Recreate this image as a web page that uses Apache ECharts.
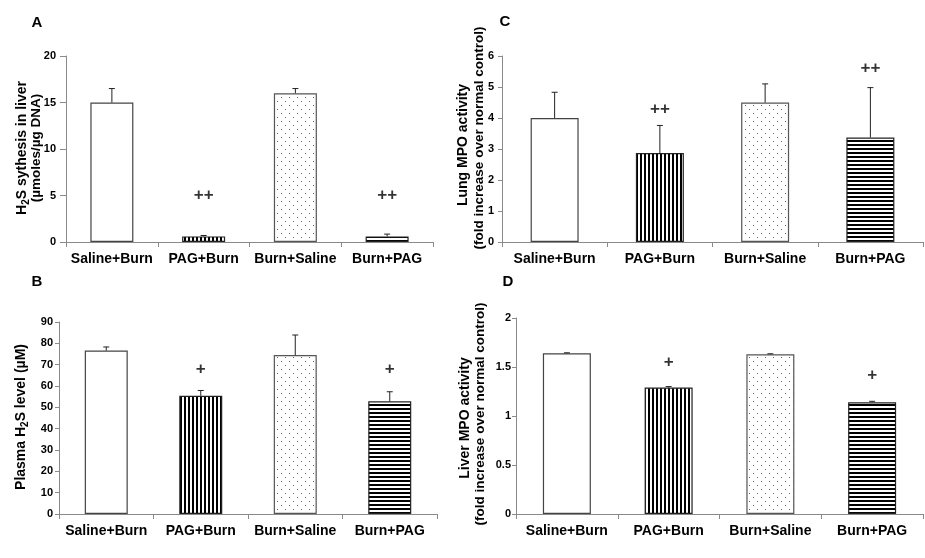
<!DOCTYPE html>
<html>
<head>
<meta charset="utf-8">
<script src="https://cdn.jsdelivr.net/npm/echarts@6/dist/echarts.min.js"></script>
<style>
  html, body { margin: 0; padding: 0; background: #fff; }
  #chart { width: 925px; height: 558px; }
</style>
</head>
<body>
<div id="chart"></div>
<script>
// groups on every panel
const categories = ['Saline+Burn', 'PAG+Burn', 'Burn+Saline', 'Burn+PAG']

// A - H2S synthesis in liver
const liverH2s = [15.0, 0.6, 16.0, 0.6]
const liverH2sSem = [1.5, 0.1, 0.5, 0.25]
const liverH2sSig = ['', '++', '', '++']
const liverH2sSigY = [null, 5, null, 5]
const liverH2sTicks = [0, 5, 10, 15, 20]

// B - plasma H2S
const plasmaH2s = [76.6, 55.4, 74.5, 52.8]
const plasmaH2sSem = [1.7, 2.5, 9.4, 4.5]
const plasmaH2sSig = ['', '+', '', '+']
const plasmaH2sSigY = [null, 67.7, null, 67.7]
const plasmaH2sTicks = [0, 10, 20, 30, 40, 50, 60, 70, 80, 90]

// C - lung MPO
const lungMpo = [4.0, 2.87, 4.5, 3.37]
const lungMpoSem = [0.83, 0.89, 0.6, 1.61]
const lungMpoSig = ['', '++', '', '++']
const lungMpoSigY = [null, 4.28, null, 5.6]
const lungMpoTicks = [0, 1, 2, 3, 4, 5, 6]

// D - liver MPO
const liverMpo = [1.64, 1.29, 1.63, 1.14]
const liverMpoSem = [0.005, 0.01, 0.005, 0.01]
const liverMpoSig = ['', '+', '', '+']
const liverMpoSigY = [null, 1.545, null, 1.415]
const liverMpoTicks = [0, 0.5, 1, 1.5, 2]

// fill patterns
const makeTile = (w, h, draw) => {
  const c = document.createElement('canvas')
  c.width = w
  c.height = h
  const ctx = c.getContext('2d')
  ctx.fillStyle = '#fff'
  ctx.fillRect(0, 0, w, h)
  draw(ctx)
  return c
}
const vStripes = makeTile(4, 4, ctx => { ctx.fillStyle = '#000'; ctx.fillRect(0, 0, 2, 4) })
const hStripes = makeTile(4, 4, ctx => { ctx.fillStyle = '#000'; ctx.fillRect(0, 0, 4, 2) })
const dots = makeTile(8, 8, ctx => {
  ctx.fillStyle = '#666'
  ctx.fillRect(1, 1, 1, 1)
  ctx.fillRect(5, 5, 1, 1)
})
const fills = [
  { color: '#fff', borderColor: '#444' },
  { color: { image: vStripes, repeat: 'repeat' }, borderColor: '#222' },
  { color: { image: dots, repeat: 'repeat' }, borderColor: '#555' },
  { color: { image: hStripes, repeat: 'repeat' }, borderColor: '#222' }
]

const grids = [
  { left: 66, top: 56, width: 367, height: 186 },   // A
  { left: 502, top: 56, width: 421, height: 186 },  // C
  { left: 59, top: 322, width: 378, height: 192 },  // B
  { left: 516, top: 318, width: 407, height: 196 }  // D
]

const panels = [
  { vals: liverH2s, sem: liverH2sSem, sig: liverH2sSig, sigY: liverH2sSigY, ticks: liverH2sTicks, barWidth: 43, margin: 10, tick: 6 },
  { vals: lungMpo, sem: lungMpoSem, sig: lungMpoSig, sigY: lungMpoSigY, ticks: lungMpoTicks, barWidth: 48, margin: 8, tick: 4 },
  { vals: plasmaH2s, sem: plasmaH2sSem, sig: plasmaH2sSig, sigY: plasmaH2sSigY, ticks: plasmaH2sTicks, barWidth: 43, margin: 6, tick: 4 },
  { vals: liverMpo, sem: liverMpoSem, sig: liverMpoSig, sigY: liverMpoSigY, ticks: liverMpoTicks, barWidth: 48, margin: 5, tick: 4 }
]

const axisGray = '#8a8a8a'
const titleFont = 'Liberation Sans, Arial, sans-serif'

const xAxes = panels.map((p, i) => ({
  type: 'category',
  gridIndex: i,
  data: categories,
  axisLine: { lineStyle: { color: axisGray, width: 1 } },
  axisTick: { show: true, length: 5, lineStyle: { color: axisGray } },
  axisLabel: { interval: 0, color: '#000', fontWeight: 'bold', fontSize: 14, fontFamily: titleFont, margin: 10 },
  splitLine: { show: false }
}))

const yAxes = panels.map((p, i) => {
  const t = p.ticks
  return {
    type: 'value',
    gridIndex: i,
    min: t[0],
    max: t[t.length - 1],
    interval: t[1] - t[0],
    axisLine: { show: true, lineStyle: { color: axisGray, width: 1 } },
    axisTick: { show: true, length: p.tick, lineStyle: { color: axisGray } },
    axisLabel: { color: '#000', fontWeight: 'bold', fontSize: 11, fontFamily: titleFont, margin: p.margin },
    splitLine: { show: false }
  }
})

const series = []
panels.forEach((p, i) => {
  series.push({
    type: 'bar',
    xAxisIndex: i,
    yAxisIndex: i,
    barWidth: p.barWidth,
    data: p.vals.map((v, k) => ({
      value: v,
      itemStyle: { color: fills[k].color, borderColor: fills[k].borderColor, borderWidth: 1.2 }
    }))
  })
  // upper error bars
  series.push({
    type: 'custom',
    xAxisIndex: i,
    yAxisIndex: i,
    z: 5,
    data: p.vals.map((v, k) => [k, v, v + p.sem[k]]),
    encode: { x: 0, y: [1, 2] },
    renderItem: (params, api) => {
      const base = api.coord([api.value(0), api.value(1)])
      const top = api.coord([api.value(0), api.value(2)])
      const st = { stroke: '#222', lineWidth: 1 }
      return {
        type: 'group',
        children: [
          { type: 'line', shape: { x1: base[0], y1: base[1], x2: base[0], y2: top[1] }, style: st },
          { type: 'line', shape: { x1: base[0] - 3, y1: top[1], x2: base[0] + 3, y2: top[1] }, style: st }
        ]
      }
    }
  })
  // significance marks
  series.push({
    type: 'scatter',
    xAxisIndex: i,
    yAxisIndex: i,
    symbolSize: 1,
    itemStyle: { color: 'transparent' },
    data: p.sig.map((s, k) => [k, p.sigY[k], s]).filter(d => d[2]),
    label: {
      show: true,
      position: 'inside',
      formatter: pr => pr.data[2],
      color: '#000',
      fontWeight: 'bold',
      fontSize: 17,
      fontFamily: titleFont
    }
  })
})

const rich = {
  b: { fontSize: 14, fontWeight: 'bold', fontFamily: titleFont, color: '#000', lineHeight: 18 },
  m: { fontSize: 13.5, fontWeight: 'bold', fontFamily: titleFont, color: '#000', lineHeight: 18 },
  s: { fontSize: 10, fontWeight: 'bold', fontFamily: titleFont, color: '#000', lineHeight: 10, verticalAlign: 'bottom' }
}
const vText = (x, y, text) => ({
  type: 'text',
  x: x,
  y: y,
  rotation: Math.PI / 2,
  style: { text: text, rich: rich, align: 'center', verticalAlign: 'middle' }
})
const letter = (x, y, text) => ({
  type: 'text',
  x: x,
  y: y,
  style: { text: text, font: 'bold 15px ' + titleFont, fill: '#000', align: 'center', verticalAlign: 'middle' }
})

const option = {
  animation: false,
  backgroundColor: '#fff',
  grid: grids,
  xAxis: xAxes,
  yAxis: yAxes,
  series: series,
  graphic: [
    letter(37, 23, 'A'),
    letter(505, 22, 'C'),
    letter(37, 282, 'B'),
    letter(508, 282, 'D'),
    vText(22, 148, '{b|H}{s|2}{b|S sythesis in liver}'),
    vText(36, 148, '{m|(µmoles/µg DNA)}'),
    vText(21, 417, '{b|Plasma H}{s|2}{b|S level (µM)}'),
    vText(463, 145, '{b|Lung MPO activity}'),
    vText(479, 138, '{m|(fold increase over normal control)}'),
    vText(465, 418, '{b|Liver MPO activity}'),
    vText(480, 414, '{m|(fold increase over normal control)}')
  ]
}

const chart = echarts.init(document.getElementById('chart'))
chart.setOption(option)
</script>
</body>
</html>
